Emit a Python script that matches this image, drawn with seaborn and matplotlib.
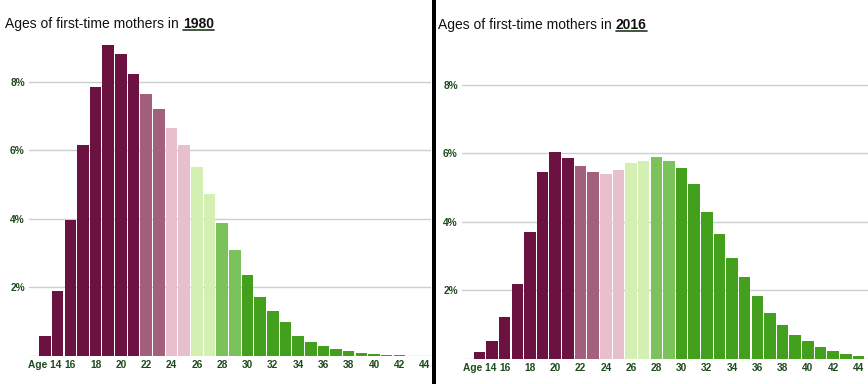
import matplotlib
matplotlib.use("Agg")
import matplotlib.pyplot as plt
import seaborn as sns
import pandas as pd
from matplotlib.lines import Line2D
from matplotlib.patches import Rectangle

# ---------------- data ----------------
ages_1980 = list(range(14, 43))
pct_1980 = [0.58, 1.89, 3.97, 6.14, 7.84, 9.08, 8.80, 8.22, 7.64, 7.21,
            6.65, 6.14, 5.50, 4.72, 3.89, 3.10, 2.37, 1.73, 1.30, 0.98,
            0.58, 0.40, 0.28, 0.21, 0.15, 0.08, 0.06, 0.04, 0.04]

ages_2016 = list(range(14, 45))
pct_2016 = [0.19, 0.52, 1.23, 2.20, 3.70, 5.45, 6.03, 5.85, 5.64, 5.45,
            5.40, 5.50, 5.70, 5.77, 5.89, 5.77, 5.57, 5.10, 4.30, 3.63,
            2.94, 2.39, 1.83, 1.34, 0.99, 0.71, 0.52, 0.35, 0.22, 0.14, 0.08]

years = ["1980", "2016"]
tick_ages = list(range(14, 45, 2))
tick_labels = ["Age 14"] + [str(a) for a in tick_ages[1:]]
y_ticks = [2, 4, 6, 8]
y_tick_labels = ["2%", "4%", "6%", "8%"]

group_colors = {
    "teen": "#6c1240",
    "early20s": "#a3607c",
    "mid20s": "#e8bfcd",
    "late20s": "#d3f0b2",
    "near30": "#7cc25a",
    "thirties": "#42a01c",
}


def age_group(a):
    if a <= 21:
        return "teen"
    if a <= 23:
        return "early20s"
    if a <= 25:
        return "mid20s"
    if a <= 27:
        return "late20s"
    if a <= 29:
        return "near30"
    return "thirties"


# ---------------- style ----------------
sns.set_style("white")
plt.rcParams["font.family"] = ["Liberation Sans", "DejaVu Sans"]

W, H = 868, 384
fig = plt.figure(figsize=(W / 100, H / 100), dpi=100)

grid_color = "#c9d1ce"
tick_color = "#1f4a1f"

# panel geometry in pixels: (left, right, baseline_from_top, xlim)
panels = [
    dict(ages=ages_1980, pct=pct_1980, left=29, right=431, base=356,
         xlim=(12.74, 44.5), title_x=5, title_base=28),
    dict(ages=ages_2016, pct=pct_2016, left=462, right=868, base=359,
         xlim=(12.62, 44.76), title_x=438, title_base=29),
]
px_per_pct = 34.3
ymax = 9.6

for year, p in zip(years, panels):
    height_px = ymax * px_per_pct
    ax = fig.add_axes([p["left"] / W, (H - p["base"]) / H,
                       (p["right"] - p["left"]) / W, height_px / H])
    df = pd.DataFrame({"age": p["ages"], "pct": p["pct"]})
    df["group"] = df["age"].map(age_group)
    sns.barplot(data=df, x="age", y="pct", hue="group", palette=group_colors,
                native_scale=True, dodge=False, width=0.91, legend=False,
                saturation=1, linewidth=0, ax=ax)
    ax.set_xlim(*p["xlim"])
    ax.set_ylim(0, ymax)
    ax.set_axisbelow(True)
    for yv in [0] + y_ticks:
        ax.axhline(yv, color=grid_color, lw=1.0, zorder=0.5)
    ax.set_yticks(y_ticks)
    ax.set_yticklabels(y_tick_labels)
    ax.set_xticks(tick_ages)
    ax.set_xticklabels(tick_labels)
    ax.tick_params(axis="both", length=0, colors=tick_color, labelsize=7.3)
    ax.tick_params(axis="y", pad=3)
    ax.tick_params(axis="x", pad=3)
    for lab in ax.get_xticklabels() + ax.get_yticklabels():
        lab.set_fontweight("bold")
    ax.set_xlabel("")
    ax.set_ylabel("")
    for s in ax.spines.values():
        s.set_visible(False)
    ax.patch.set_alpha(0)

    # title with bold underlined year
    ty = (H - p["title_base"]) / H
    t1 = fig.text(p["title_x"] / W, ty, "Ages of first-time mothers in ",
                  fontsize=10, color="#111111", va="baseline", ha="left")
    fig.canvas.draw()
    bb = t1.get_window_extent()
    t2 = fig.text(bb.x1 / W, ty, year, fontsize=10, fontweight="bold",
                  color="#111111", va="baseline", ha="left")
    fig.canvas.draw()
    bb2 = t2.get_window_extent()
    uy = ty - 2.2 / H
    fig.add_artist(Line2D([bb2.x0 / W, bb2.x1 / W], [uy, uy],
                          transform=fig.transFigure, color="#1c3a1c", lw=1.2))

# black divider between the panels
fig.add_artist(Rectangle((432 / W, 0), 4 / W, 1, transform=fig.transFigure,
                         facecolor="black", edgecolor="none"))

fig.savefig("out.png", dpi=100)
